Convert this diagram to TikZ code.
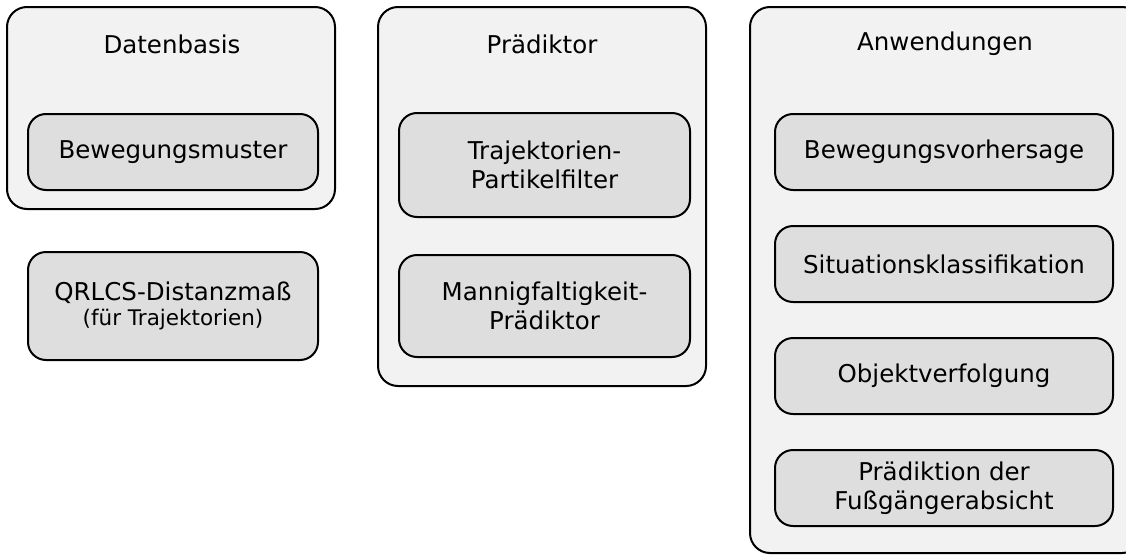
\documentclass[tikz,border=0pt]{standalone}
\usepackage{fontspec}
\setmainfont{DejaVu Sans}
\usetikzlibrary{positioning}

\begin{document}
\begin{tikzpicture}[x=1pt, y=-1pt,
        group/.style={rectangle, rounded corners=20pt, draw=black, fill=black!5, line width=2pt, inner sep=0pt},
        title/.style={font=\fontsize{24.5}{29}\selectfont},
        item/.style={rectangle, rounded corners=18pt, draw=black, fill=black!13, line width=2pt, align=center, minimum width=290pt, minimum height=76pt, font=\fontsize{24.5}{29}\selectfont},
        wide/.style={item, minimum width=338pt}
      ]
        \useasboundingbox (0,0) rectangle (1126,554);

        % the three groups
        \node[group, minimum width=328pt, minimum height=202pt]  (datenbasis)   at (171,108)    {};
        \node[group, minimum width=328pt, minimum height=379pt]  (praediktor)   at (542,196.5)  {};
        \node[group, minimum width=392pt, minimum height=546pt]  (anwendungen)  at (946,280)    {};

        \node[title]  (datenbasis-title)   at (172,44)  {Datenbasis};
        \node[title]  (praediktor-title)   at (542,44)  {Prädiktor};
        \node[title]  (anwendungen-title)  at (945,44)  {Anwendungen};

        % Datenbasis + distance measure
        \node[item]  (muster)   at (173,152)  {Bewegungsmuster};
        \node[item, minimum height=108pt]  (qrlcs)  at (173,306)
            {QRLCS-Distanzmaß\\[-4pt]{\fontsize{21.5}{25}\selectfont (für Trajektorien)}};

        % Praediktor
        \node[item, minimum width=291pt, minimum height=104pt]  (partikel)  at (544.5,165)  {Trajektorien-\\Partikelfilter};
        \node[item, minimum width=291pt, minimum height=102pt]  (mannig)    at (544.5,306)  {Mannigfaltigkeit-\\Prädiktor};

        % Anwendungen
        \node[wide]  (vorhersage)  at (944,152)  {Bewegungsvorhersage};
        \node[wide]  (situation)   [below=34pt of vorhersage]  {Situationsklassifikation};
        \node[wide]  (verfolgung)  [below=34pt of situation]   {Objektverfolgung};
        \node[wide]  (absicht)     [below=34pt of verfolgung]  {Prädiktion der\\Fußgängerabsicht};
      \end{tikzpicture}
\end{document}
